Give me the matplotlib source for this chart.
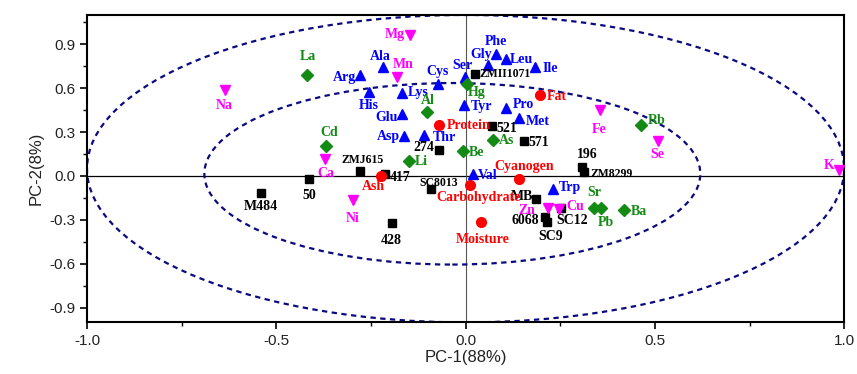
import matplotlib
matplotlib.use("Agg")
import matplotlib.pyplot as plt
from matplotlib.patches import Ellipse
from matplotlib.ticker import MultipleLocator, FormatStrFormatter

# samples (black squares)
sample_names = ["M484", "50", "ZMJ615", "417", "SC8013", "274", "428", "521", "571",
                "ZMII1071", "196", "ZM8299", "MB", "SC12", "6068", "SC9"]
sample_x = [-0.541, -0.414, -0.280, -0.213, -0.091, -0.069, -0.195, 0.069, 0.154,
            0.024, 0.308, 0.314, 0.187, 0.251, 0.211, 0.215]
sample_y = [-0.116, -0.021, 0.034, 0.012, -0.091, 0.178, -0.324, 0.342, 0.240,
            0.697, 0.064, 0.029, -0.160, -0.221, -0.283, -0.313]

# proximate composition (red circles)
nutr_names = ["Protein", "Fat", "Ash", "Cyanogen", "Carbohydrate", "Moisture"]
nutr_x = [-0.069, 0.197, -0.224, 0.142, 0.013, 0.041]
nutr_y = [0.345, 0.550, 0.0, -0.021, -0.062, -0.315]

# amino acids (blue triangles)
amino_names = ["Phe", "Gly", "Leu", "Ile", "Ser", "Cys", "Tyr", "Pro", "Met", "Thr",
               "Val", "Trp", "Ala", "Arg", "His", "Lys", "Glu", "Asp"]
amino_x = [0.081, 0.059, 0.106, 0.183, -0.001, -0.074, -0.005, 0.106, 0.141, -0.110,
           0.019, 0.230, -0.219, -0.278, -0.255, -0.169, -0.169, -0.163]
amino_y = [0.836, 0.755, 0.799, 0.743, 0.676, 0.630, 0.483, 0.466, 0.397, 0.281,
           0.014, -0.089, 0.747, 0.688, 0.572, 0.565, 0.421, 0.274]

# minerals (magenta down triangles)
mineral_names = ["Mg", "Mn", "Na", "Ca", "Ni", "Fe", "Se", "K", "Zn", "Cu"]
mineral_x = [-0.146, -0.182, -0.636, -0.372, -0.297, 0.354, 0.507, 0.987, 0.217, 0.248]
mineral_y = [0.966, 0.678, 0.589, 0.116, -0.164, 0.452, 0.240, 0.041, -0.221, -0.228]

# trace elements (green diamonds)
trace_names = ["La", "Cd", "Li", "Al", "Hg", "Be", "As", "Rb", "Sr", "Pb", "Ba"]
trace_x = [-0.420, -0.369, -0.150, -0.101, 0.004, -0.007, 0.072, 0.463, 0.340, 0.358, 0.418]
trace_y = [0.692, 0.205, 0.105, 0.436, 0.630, 0.171, 0.247, 0.349, -0.217, -0.217, -0.235]

# label placement: offset in pixels, horizontal alignment
offsets = {
    "M484": (0, -14, "center"), "50": (0, -16, "center"), "ZMJ615": (3, 11, "center"),
    "417": (5, -3, "left"), "SC8013": (8, 6, "center"), "274": (-5, 2, "right"),
    "428": (0, -17, "center"), "521": (5, -3, "left"), "571": (5, -2, "left"),
    "ZMII1071": (5, 0, "left"), "196": (5, 12, "center"), "ZM8299": (6, -2, "left"),
    "MB": (-3, 3, "right"), "SC12": (12, -12, "center"), "6068": (-6, -3, "right"),
    "SC9": (4, -15, "center"),
    "Protein": (7, 0, "left"), "Fat": (7, -1, "left"), "Ash": (-7, -11, "center"),
    "Cyanogen": (5, 13, "center"), "Carbohydrate": (8, -12, "center"),
    "Moisture": (2, -17, "center"),
    "Phe": (0, 12, "center"), "Gly": (-7, 11, "center"), "Leu": (4, 0, "left"),
    "Ile": (8, -1, "left"), "Ser": (-3, 12, "center"), "Cys": (0, 12, "center"),
    "Tyr": (7, -1, "left"), "Pro": (7, 3, "left"), "Met": (7, -4, "left"),
    "Thr": (9, -3, "left"), "Val": (5, -2, "left"), "Trp": (6, 2, "left"),
    "Ala": (-2, 10, "center"), "Arg": (-4, -2, "right"), "His": (0, -13, "center"),
    "Lys": (6, 1, "left"), "Glu": (-4, -3, "right"), "Asp": (-4, -1, "right"),
    "Mg": (-5, 0, "right"), "Mn": (7, 12, "center"), "Na": (0, -16, "center"),
    "Ca": (1, -14, "center"), "Ni": (0, -18, "center"), "Fe": (0, -20, "center"),
    "Se": (0, -14, "center"), "K": (-5, 4, "right"), "Zn": (-12, -2, "right"),
    "Cu": (7, 3, "left"),
    "La": (1, 18, "center"), "Cd": (3, 13, "center"), "Li": (6, -1, "left"),
    "Al": (0, 12, "center"), "Hg": (10, -9, "center"), "Be": (6, -2, "left"),
    "As": (6, -1, "left"), "Rb": (7, 4, "left"), "Sr": (0, 15, "center"),
    "Pb": (5, -15, "center"), "Ba": (7, -1, "left"),
}
small = {"ZMJ615", "SC8013", "ZMII1071", "ZM8299"}

plt.rcParams['font.family'] = ['Liberation Sans', 'DejaVu Sans']

fig = plt.figure(figsize=(8.57, 3.74), dpi=100)
ax = fig.add_axes([0.1015, 0.138, 0.8835, 0.822])

ax.axhline(0, color="black", lw=0.9, zorder=1)
ax.axvline(0, color="#555555", lw=0.8, zorder=1)

navy = "#0a0a80"
ax.add_patch(Ellipse((0, 0.05), 2.0, 2.1, fill=False, ec=navy, lw=1.6,
                     ls=(0, (2.4, 2.0)), zorder=2))
ax.add_patch(Ellipse((-0.035, 0.015), 1.31, 1.24, fill=False, ec=navy, lw=1.6,
                     ls=(0, (2.4, 2.0)), zorder=2))

groups = [
    (sample_names, sample_x, sample_y, "s", "black", 5.5),
    (nutr_names, nutr_x, nutr_y, "o", "#ff0000", 7),
    (amino_names, amino_x, amino_y, "^", "#0000ff", 7.5),
    (mineral_names, mineral_x, mineral_y, "v", "#ff00ff", 7.5),
    (trace_names, trace_x, trace_y, "D", "#138a13", 6),
]
for names, xs, ys, mk, col, ms in groups:
    ax.plot(xs, ys, ls="none", marker=mk, color=col, ms=ms, mec=col, zorder=4)
    for n, x, y in zip(names, xs, ys):
        dx, dy, ha = offsets[n]
        fs = 8.5 if n in small else 10
        ax.annotate(n, (x, y), xytext=(dx, dy), textcoords="offset pixels",
                    ha=ha, va="center", color=col, fontsize=fs,
                    fontfamily="Liberation Serif", fontweight="bold", zorder=5)

ax.set_xlim(-1.0, 1.0)
ax.set_ylim(-1.0, 1.1)
ax.xaxis.set_major_locator(MultipleLocator(0.5))
ax.xaxis.set_minor_locator(MultipleLocator(0.25))
ax.yaxis.set_major_locator(MultipleLocator(0.3))
ax.yaxis.set_minor_locator(MultipleLocator(0.15))
ax.xaxis.set_major_formatter(FormatStrFormatter("%.1f"))
ax.yaxis.set_major_formatter(FormatStrFormatter("%.1f"))
ax.tick_params(which="major", direction="out", length=5, width=1.2, labelsize=11,
               labelcolor="#222222", top=False, right=False)
ax.tick_params(which="minor", direction="out", length=3, width=1.0,
               top=False, right=False)
for s in ax.spines.values():
    s.set_linewidth(1.5)

ax.set_xlabel("PC-1(88%)", fontsize=12, labelpad=1, color="#222222")
ax.set_ylabel("PC-2(8%)", fontsize=12, labelpad=4, color="#222222")

fig.savefig("out.png", dpi=100)
